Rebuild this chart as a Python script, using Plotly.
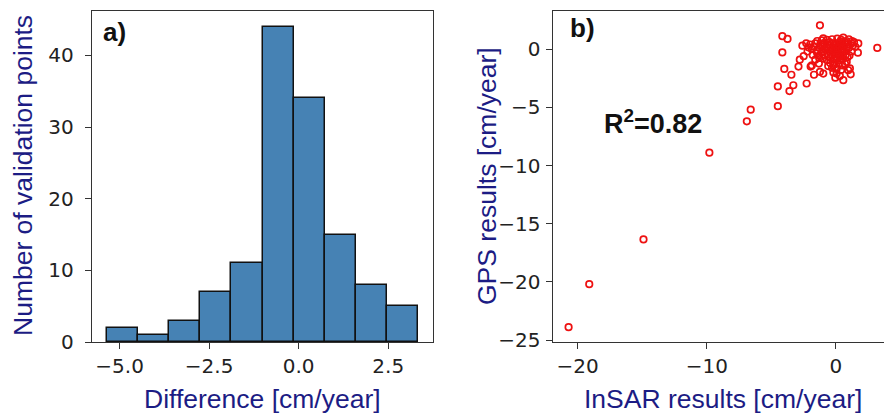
import plotly.graph_objects as go

# ---------------- data ----------------
# histogram (panel a)
bin_edges = [-5.34, -4.474, -3.608, -2.742, -1.876, -1.01, -0.144, 0.722, 1.588, 2.454, 3.32]
bin_counts = [2, 1, 3, 7, 11, 44, 34, 15, 8, 5]

# scatter (panel b)
insar = [-20.7, -19.1, -14.9, -9.8, -6.9, -6.6, -4.5, -4.5, -3.6, -3.3,
         -3.45, -4.0, -4.15, -4.15, -3.75, -2.27, -1.24, 3.2, -1.7, -1.96,
         -2.5, -2.3, -1.87, -1.87, -1.24, -0.98, -1.32, -1.45, -0.98, 0.57,
         1.73, 1.21, 0.83, 1.08, 1.14, 0.57, 0.05, -0.2, 0.31, 0.95,
         -1.1, -0.7, -0.3, 0.1, 0.4, 0.8, 1.0, -0.5, 1.4,
         -2.0, -1.6, -1.2, -0.9, -0.6, -0.2, 0.2, 0.5, 0.9, 1.3, -0.1, 0.7,
         -2.1, -1.7, -1.3, -1.0, -0.7, -0.4, -0.05, 0.3, 0.6, 1.0, 1.5, 0.15, -0.25, 0.85,
         -2.2, -1.5, -1.1, -0.8, -0.5, -0.15, 0.2, 0.5, 0.8, 1.2, 0.0, -0.35, 0.65,
         -1.8, -1.3, -0.9, -0.6, -0.25, 0.1, 0.4, 0.75, 1.05, -0.05,
         -1.6, -1.0, -0.7, -0.4, -0.1, 0.15, 0.55, 0.9, -1.3,
         -0.45, -0.1, 0.2, 0.5, -0.3, 0.05, 0.4, -0.2, 0.3, -0.05, 0.7, -0.6,
         -2.8, -2.6, -2.9, 1.7, 0.35, -0.85, 0.45, -0.55, 1.25, -1.45, 0.25]
gps = [-23.9, -20.2, -16.35, -8.9, -6.2, -5.2, -4.9, -3.2, -3.6, -3.1,
       -2.2, -1.7, -0.28, 1.12, 0.88, -2.95, 2.05, 0.11, -2.2, -1.5,
       -0.6, 0.5, 0.0, -1.4, -1.95, -2.1, -1.24, 0.7, 0.92, 1.0,
       0.49, 0.49, -1.1, -1.66, -2.16, -2.67, -2.1, -1.38, -0.95, -1.81,
       0.75, 0.8, 0.85, 0.9, 0.8, 0.7, 0.85, 0.6, 0.6,
       0.4, 0.5, 0.45, 0.55, 0.4, 0.5, 0.55, 0.45, 0.4, 0.3, 0.35, 0.6,
       0.15, 0.2, 0.1, 0.25, 0.15, 0.3, 0.1, 0.2, 0.25, 0.1, 0.2, 0.3, 0.05, 0.15,
       -0.2, -0.15, -0.25, -0.1, -0.2, -0.3, -0.1, -0.25, -0.05, -0.2, -0.15, -0.05, -0.15,
       -0.5, -0.55, -0.45, -0.6, -0.5, -0.45, -0.6, -0.5, -0.55, -0.65,
       -0.9, -0.8, -0.95, -0.75, -0.9, -0.8, -0.85, -0.7, -0.75,
       -1.2, -1.3, -1.25, -1.4, -1.6, -1.7, -1.8, -2.0, -2.3, -2.45, -1.25, -1.45,
       -0.9, 0.3, -1.5, -0.3, 0.65, 0.05, 0.05, 0.05, 0.7, -0.35, -0.6]

hist_xticks = [-5.0, -2.5, 0.0, 2.5]
hist_yticks = [0, 10, 20, 30, 40]
sc_xticks = [-20, -10, 0]
sc_yticks = [0, -5, -10, -15, -20, -25]

# ---------------- figure ----------------
W, H = 884, 416
def px(x):
    return x / W
def py(y):
    return 1 - y / H

centers = [(bin_edges[i] + bin_edges[i + 1]) / 2 for i in range(len(bin_counts))]
widths = [bin_edges[i + 1] - bin_edges[i] for i in range(len(bin_counts))]

fig = go.Figure()
fig.add_trace(go.Bar(x=centers, y=bin_counts, width=widths,
                     marker=dict(color="#4682b4", line=dict(color="#111111", width=1.5)),
                     xaxis="x", yaxis="y", showlegend=False))
fig.add_trace(go.Scatter(x=insar, y=gps, mode="markers",
                         marker=dict(symbol="circle-open", size=6.5, color="#ee1111",
                                     line=dict(width=1.7, color="#ee1111")),
                         xaxis="x2", yaxis="y2", showlegend=False))

tickfont = dict(family="DejaVu Sans", size=20, color="#222222")
axline = dict(showline=True, linecolor="#333333", linewidth=1.4, ticks="outside",
              ticklen=6, tickwidth=1.4, tickcolor="#333333", showgrid=False,
              zeroline=False, tickfont=tickfont, automargin=False)

ydom = [py(342), py(11)]
fig.update_layout(
    template="none",
    width=W, height=H, margin=dict(l=0, r=0, t=0, b=0, autoexpand=False),
    paper_bgcolor="white", plot_bgcolor="white", bargap=0,
    xaxis=dict(domain=[px(92), px(433)], range=[-5.77, 3.75], tickvals=hist_xticks,
               ticktext=["−5.0", "−2.5", "0.0", "2.5"], mirror=True, anchor="y", **axline),
    yaxis=dict(domain=ydom, range=[0, 46.2], tickvals=hist_yticks, mirror=True,
               anchor="x", ticklabelstandoff=7, **axline),
    xaxis2=dict(domain=[px(552.7), 1.0], range=[-21.93, 3.72], tickvals=sc_xticks,
                ticktext=["−20", "−10", "0"], mirror=True, anchor="y2", **axline),
    yaxis2=dict(domain=ydom, range=[-25.17, 3.28], tickvals=sc_yticks,
                ticktext=["0", "−5", "−10", "−15", "−20", "−25"], anchor="x2",
                ticklabelstandoff=1, **axline),
)

titlefont = dict(family="Liberation Sans, Arial", size=26.5, color="#1c1c84")
labfont = dict(family="Liberation Sans, Arial", size=26, color="#111111")
ann = [
    dict(text="Number of validation points", x=px(23), y=py(176), textangle=-90, font=titlefont),
    dict(text="Difference [cm/year]", x=px(262), y=py(399), font=titlefont),
    dict(text="GPS results [cm/year]", x=px(487), y=py(176), textangle=-90, font=titlefont),
    dict(text="InSAR results [cm/year]", x=px(723), y=py(399), font=titlefont),
    dict(text="<b>a)</b>", x=px(114), y=py(32), font=labfont),
    dict(text="<b>b)</b>", x=px(582), y=py(28), font=labfont),
    dict(text="<b>R<sup>2</sup>=0.82</b>", x=px(653), y=py(122),
         font=dict(family="Liberation Sans, Arial", size=27, color="#111111")),
]
for a in ann:
    a.update(xref="paper", yref="paper", showarrow=False, xanchor="center", yanchor="middle")
fig.update_layout(annotations=ann)

fig.write_html("out.html")
